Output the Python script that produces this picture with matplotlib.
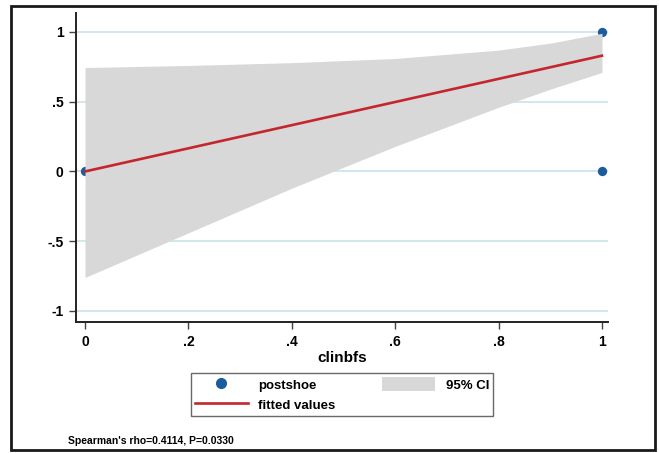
import matplotlib
matplotlib.use("Agg")
import matplotlib.pyplot as plt
from matplotlib.patches import Rectangle, Patch
from matplotlib.lines import Line2D

# Data
pt_x = [0, 1, 1]
pt_y = [0, 1, 0]
fit_x = [0, 1]
fit_y = [0.0, 0.83]
ci_x = [0, 0.2, 0.4, 0.6, 0.8, 0.9, 1.0]
ci_lo = [-0.76, -0.44, -0.12, 0.18, 0.46, 0.59, 0.71]
ci_hi = [0.745, 0.76, 0.78, 0.81, 0.87, 0.92, 0.99]
xticks = [0, 0.2, 0.4, 0.6, 0.8, 1]
xticklabels = ["0", ".2", ".4", ".6", ".8", "1"]
yticks = [-1, -0.5, 0, 0.5, 1]
yticklabels = ["-1", "-.5", "0", ".5", "1"]

plt.rcParams['font.family'] = ['Liberation Sans', 'DejaVu Sans']
plt.rcParams['font.weight'] = 'bold'

W, H = 659, 453
fig = plt.figure(figsize=(W / 100, H / 100), dpi=100)
fig.patch.set_facecolor('white')

ax = fig.add_axes([76 / W, 1 - 322 / H, (608 - 76) / W, (322 - 13) / H])
ax.set_facecolor('white')

# grid lines
for yv in yticks:
    ax.axhline(yv, color='#cfe5ee', lw=1.3, zorder=0)

ax.scatter(pt_x, pt_y, s=45, color='#1b5d9c', zorder=1, clip_on=False, linewidths=0)
ax.fill_between(ci_x, ci_lo, ci_hi, color='#d8d8d8', lw=0, zorder=2)
ax.plot(fit_x, fit_y, color='#c4262e', lw=1.9, zorder=3)

ax.set_xlim(-0.0174, 1.0116)
ax.set_ylim(-1.079, 1.136)
ax.set_xticks(xticks)
ax.set_xticklabels(xticklabels)
ax.set_yticks(yticks)
ax.set_yticklabels(yticklabels)
for s in ['top', 'right']:
    ax.spines[s].set_visible(False)
for s in ['left', 'bottom']:
    ax.spines[s].set_color('#222222')
    ax.spines[s].set_linewidth(1.4)
ax.tick_params(axis='both', direction='out', length=5, width=1.0, color='#444444',
               labelsize=10, pad=4)
for lab in ax.get_xticklabels() + ax.get_yticklabels():
    lab.set_fontweight('bold')
ax.set_xlabel('clinbfs', fontsize=11, fontweight='bold', labelpad=2)

# legend
handles = [
    Line2D([], [], marker='o', ls='none', color='#1b5d9c', markersize=7),
    Line2D([], [], color='#c4262e', lw=1.9),
    Patch(facecolor='#d8d8d8', edgecolor='none'),
]
labels = ['postshoe', 'fitted values', '95% CI']
leg = fig.legend(handles, labels, loc='center',
                 bbox_to_anchor=(191 / W, 1 - 419 / H, (493 - 191) / W, 49 / H),
                 mode='expand', ncol=2, frameon=True, fancybox=False,
                 prop={'weight': 'bold', 'size': 9.5}, handlelength=4.0,
                 handleheight=1.3, handletextpad=0.8, columnspacing=1.5,
                 borderpad=0.3, labelspacing=0.45, borderaxespad=0)
leg.get_frame().set_edgecolor('#444444')
leg.get_frame().set_linewidth(1.0)

fig.text(68 / W, 1 - 441 / H, "Spearman's rho=0.4114, P=0.0330", fontsize=7.5,
         fontweight='bold', va='center', ha='left')

# outer frame
fig.patches.append(Rectangle((11 / W, 1 - 450 / H), (655 - 11) / W, (450 - 6) / H,
                             transform=fig.transFigure, fill=False,
                             edgecolor='#1a1a1a', lw=2.0))

fig.savefig('out.png', dpi=100)
